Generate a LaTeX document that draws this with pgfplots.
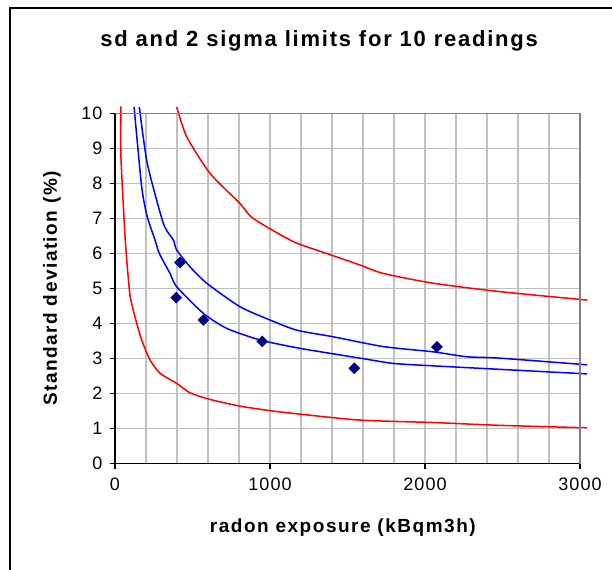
\documentclass[border=0pt]{standalone}
\usepackage{fontspec}
\setmainfont{Liberation Sans}
\newfontfamily\tickfont[LetterSpace=6]{Liberation Sans}
\newfontfamily\labfont[LetterSpace=8]{Liberation Sans}
\newfontfamily\titfont[LetterSpace=8]{Liberation Sans}
\usepackage{pgfplots}
\pgfplotsset{compat=1.18}

\definecolor{xlred}{HTML}{FF0000}
\definecolor{xlblue}{HTML}{0000FF}
\definecolor{xlnavy}{HTML}{000080}
\definecolor{xlgrid}{HTML}{C0C0C0}
\definecolor{xlborder}{HTML}{808080}

\begin{document}
\begin{tikzpicture}
\begin{axis}[
    at={(0,0)}, anchor=south west,
    scale only axis,
    width=465bp, height=350bp,
    xmin=0, xmax=3000, ymin=0, ymax=10,
    axis lines*=left,
    axis line style={black, line width=1.6bp},
    xtick={0,1000,2000,3000},
    minor xtick={200,400,600,800,1200,1400,1600,1800,2200,2400,2600,2800},
    ytick={0,1,...,10},
    tick align=outside,
    major tick length=5bp, minor tick length=0pt,
    tick style={black, line width=1.4bp},
    grid=both,
    major grid style={xlgrid, line width=1.6bp},
    minor grid style={xlgrid, line width=1.6bp},
    /pgf/number format/assume math mode=true,
    scaled x ticks=false,
    xticklabel={\pgfmathprintnumber[fixed,1000 sep={}]{\tick}},
    ticklabel style={font=\tickfont\fontsize{18bp}{20bp}\selectfont},
    xticklabel style={yshift=-6bp},
    yticklabel style={xshift=-4bp},
    xlabel={radon exposure (kBqm3h)},
    ylabel={Standard deviation (\%)},
    xlabel style={font=\labfont\bfseries\fontsize{19bp}{22bp}\selectfont,
        at={(axis description cs:0.49,0)}, anchor=center, yshift=-64.5bp},
    ylabel style={font=\labfont\bfseries\fontsize{19bp}{22bp}\selectfont,
        at={(axis description cs:-0.1355,0.5)}, anchor=center},
    title={sd and 2 sigma limits for 10 readings},
    title style={font=\titfont\bfseries\fontsize{22bp}{26bp}\selectfont,
        at={(axis description cs:0.439,1.19)}, anchor=center},
    clip=false,
]
% lower 2 sigma limit
\addplot[xlred, line width=1.5bp, mark=none, smooth, tension=0.4] coordinates {
    (38,10.2) (38,8.8) (62,6.7) (76,5.8) (97,4.8) (129,4.19) (172,3.53)
    (226,2.96) (290,2.58) (398,2.29) (484,2.02) (613,1.83) (806,1.64)
    (1000,1.51) (1194,1.41) (1581,1.24) (2054,1.17) (2484,1.09) (3045,1.02)
};
% upper 2 sigma limit
\addplot[xlred, line width=1.5bp, mark=none, smooth, tension=0.4] coordinates {
    (398,10.19) (462,9.34) (613,8.29) (806,7.43) (892,7.0) (1150,6.34)
    (1366,6.0) (1581,5.67) (1731,5.43) (2054,5.15) (2484,4.91) (3045,4.67)
};
% lower sd curve
\addplot[xlblue, line width=1.5bp, mark=none, smooth, tension=0.4] coordinates {
    (123,10.19) (172,7.91) (208,7.05) (258,6.39) (286,6.0) (355,5.43)
    (398,5.05) (570,4.29) (721,3.86) (935,3.53) (1194,3.29) (1581,3.01)
    (1795,2.86) (2054,2.79) (2484,2.69) (3045,2.56)
};
% upper sd curve
\addplot[xlblue, line width=1.5bp, mark=none, smooth, tension=0.4] coordinates {
    (157,10.19) (208,8.58) (312,6.86) (376,6.39) (398,6.1) (484,5.62)
    (592,5.15) (806,4.48) (1000,4.10) (1172,3.81) (1408,3.62) (1731,3.34)
    (2054,3.19) (2269,3.05) (2484,3.01) (3045,2.82)
};
% measured readings
\addplot[only marks, mark=square*, mark size=3.9bp,
    mark options={rotate=45, fill=xlnavy, draw=xlnavy}] coordinates {
    (419,5.74) (395,4.74) (570,4.10) (950,3.49) (1544,2.72) (2077,3.33)
};
\draw[xlborder, line width=1.6bp] (rel axis cs:0,1) -- (rel axis cs:1,1) -- (rel axis cs:1,0);
\end{axis}
\draw[black, line width=1.8bp] (-105bp,-120bp) -- (-105bp,455.5bp) -- (520bp,455.5bp);
\pgfresetboundingbox
\useasboundingbox (-115bp,-106.5bp) rectangle (497bp,463.5bp);
\end{tikzpicture}
\end{document}
